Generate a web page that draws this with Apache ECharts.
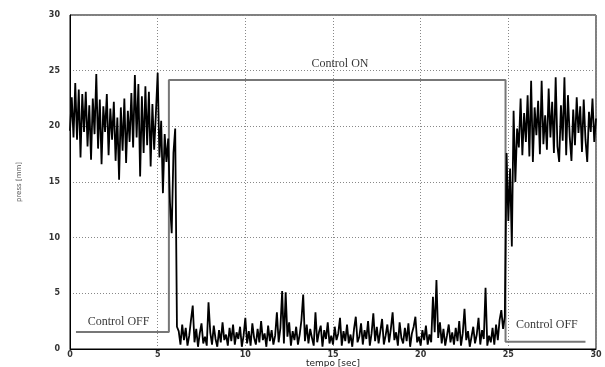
<!DOCTYPE html>
<html>
<head>
<meta charset="utf-8">
<script src="https://cdn.jsdelivr.net/npm/echarts@6/dist/echarts.min.js"></script>
<style>
  html, body { margin: 0; padding: 0; background: #fff; }
  #chart { width: 605px; height: 367px; }
</style>
</head>
<body>
<div id="chart"></div>
<script>
// sampled signal, one value every 0.1 s starting at t = 0
var sampleStart = 0;
var sampleStep = 0.1;
var pressValues = [
  // 0.0 - 6.1 s, control off
  19.6, 22.6, 19.0, 23.9, 18.8, 23.3, 17.2, 22.9, 19.5, 23.1,
  18.2, 21.9, 17.0, 22.5, 19.3, 24.7, 18.0, 22.4, 16.6, 21.8,
  19.5, 22.9, 17.4, 21.6, 18.8, 22.2, 16.9, 20.8, 15.2, 21.7,
  17.8, 22.5, 16.7, 21.4, 18.6, 23.0, 18.1, 24.6, 19.0, 23.8,
  15.5, 22.7, 17.6, 23.6, 18.3, 23.1, 16.4, 22.0, 17.9, 21.2,
  24.8, 17.2, 20.5, 14.0, 19.3, 16.8, 18.9, 13.2, 10.4, 17.6,
  19.8, 2.0,
  // 6.2 - 24.8 s, control on
  1.6, 0.4, 2.2, 0.8, 1.9, 0.3, 1.2, 2.6,
  3.9, 0.6, 1.8, 0.2, 1.4, 2.3, 0.5, 1.1, 0.3, 4.2,
  1.5, 0.4, 2.1, 0.9, 0.2, 1.7, 0.6, 2.4, 0.8, 1.3,
  0.3, 1.9, 0.7, 2.2, 0.4, 1.5, 0.9, 2.0, 0.2, 1.2,
  2.8, 0.5, 1.6, 0.3, 2.3, 1.0, 0.4, 1.8, 0.6, 2.5,
  0.8, 1.4, 0.2, 2.1, 0.7, 1.7, 0.4, 1.2, 3.3, 0.6,
  1.9, 5.2, 0.5, 5.1, 1.1, 2.4, 0.3, 1.6, 0.8, 2.0,
  0.4, 1.3, 2.6, 4.9, 0.7, 2.2, 0.5, 1.8, 1.0, 0.3,
  3.3, 0.6, 1.5, 2.1, 0.2, 1.7, 0.9, 2.4, 0.5, 1.2,
  0.4, 2.0, 0.8, 1.4, 2.8, 0.3, 1.6, 0.7, 2.2, 0.5,
  1.3, 0.2, 1.8, 2.9, 0.6, 1.1, 2.3, 0.4, 1.7, 0.9,
  2.5, 0.3, 1.4, 3.2, 0.7, 2.0, 0.5, 1.6, 2.7, 0.4,
  1.2, 2.2, 0.6, 1.8, 3.3, 0.8, 1.5, 0.3, 2.4, 1.0,
  0.5, 1.9, 0.7, 2.3, 0.2, 1.4, 2.0, 2.9, 0.6, 1.1,
  0.3, 1.7, 0.8, 2.1, 0.4, 1.3, 0.6, 4.7, 1.5, 6.2,
  1.0, 2.4, 0.5, 1.8, 0.3, 1.2, 2.2, 0.6, 1.5, 0.4,
  1.9, 0.7, 2.5, 0.3, 1.4, 3.6, 0.8, 1.6, 0.2, 1.1,
  2.0, 0.5, 1.3, 2.8, 0.4, 1.7, 0.9, 5.5, 0.3, 1.2,
  0.6, 1.9, 0.4, 2.2, 0.8, 2.6, 3.5, 1.8, 2.9,
  // 24.9 - 30.0 s, control off again
  17.6,
  11.5, 16.2, 9.2, 21.4, 15.0, 19.8, 18.1, 22.5, 17.4, 21.2,
  18.6, 22.8, 17.3, 24.1, 16.8, 21.7, 19.2, 22.3, 17.5, 24.1,
  18.4, 21.0, 17.9, 23.4, 19.0, 22.2, 17.6, 24.4, 18.2, 16.8,
  21.9, 18.7, 24.4, 17.4, 22.8, 19.1, 16.9, 21.5, 18.3, 22.6,
  19.4, 21.8, 17.7, 22.4, 18.8, 16.8, 21.3, 19.5, 22.5, 18.6,
  20.7
];

// control state indicator (step trace)
var stepTimes  = [0.34, 5.64, 5.64, 24.84, 24.84, 29.4];
var stepLevels = [1.53, 1.53, 24.17, 24.17, 0.66, 0.66];

// annotations
var noteText = ['Control ON', 'Control OFF', 'Control OFF'];
var noteX    = [15.4, 2.77, 27.2];
var noteY    = [25.6, 2.45, 2.15];

var xTicks = [0, 5, 10, 15, 20, 25, 30];
var yTicks = [0, 5, 10, 15, 20, 25, 30];

var pressData = pressValues.map(function (v, i) {
    return [+(sampleStart + i * sampleStep).toFixed(2), v];
});
var stepData = stepTimes.map(function (t, i) { return [t, stepLevels[i]]; });
var noteData = noteText.map(function (s, i) { return { name: s, value: [noteX[i], noteY[i]] }; });

var chart = echarts.init(document.getElementById('chart'));
var option = {
    animation: false,
    backgroundColor: '#fff',
    grid: {
        left: 70, right: 9, top: 15, bottom: 18,
        outerBoundsMode: 'none',
        containLabel: false,
        show: true, borderColor: '#000', borderWidth: 1
    },
    xAxis: {
        type: 'value',
        min: xTicks[0], max: xTicks[xTicks.length - 1], interval: 5,
        name: 'tempo [sec]',
        nameLocation: 'middle',
        nameGap: 10,
        nameMoveOverlap: false,
        nameTextStyle: { fontFamily: 'DejaVu Sans', fontSize: 9, color: '#222' },
        axisLine: { show: true, lineStyle: { color: '#000' } },
        axisTick: { show: false },
        axisLabel: { margin: 2, fontFamily: 'DejaVu Sans', fontSize: 8, fontWeight: 'bold', color: '#333' },
        splitLine: { show: true, lineStyle: { color: '#888', type: [1, 2] } }
    },
    yAxis: {
        type: 'value',
        min: yTicks[0], max: yTicks[yTicks.length - 1], interval: 5,
        name: 'press [mm]',
        nameLocation: 'middle',
        nameGap: 47,
        nameMoveOverlap: false,
        nameTextStyle: { fontFamily: 'DejaVu Sans', fontSize: 7, color: '#555' },
        axisLine: { show: true, lineStyle: { color: '#000' } },
        axisTick: { show: false },
        axisLabel: { margin: 10, fontFamily: 'DejaVu Sans', fontSize: 8, fontWeight: 'bold', color: '#333' },
        splitLine: { show: true, lineStyle: { color: '#888', type: [1, 2] } }
    },
    series: [
        {
            name: 'Control',
            type: 'line',
            data: stepData,
            showSymbol: false,
            lineStyle: { color: '#777', width: 2 },
            z: 2
        },
        {
            name: 'press',
            type: 'line',
            data: pressData,
            showSymbol: false,
            lineStyle: { color: '#000', width: 1.8 },
            z: 3
        },
        {
            name: 'notes',
            type: 'scatter',
            data: noteData,
            symbolSize: 0,
            label: {
                show: true,
                position: 'inside',
                formatter: '{b}',
                fontFamily: 'Liberation Serif',
                fontSize: 12,
                color: '#000'
            },
            z: 4
        }
    ]
};
chart.setOption(option);
</script>
</body>
</html>
